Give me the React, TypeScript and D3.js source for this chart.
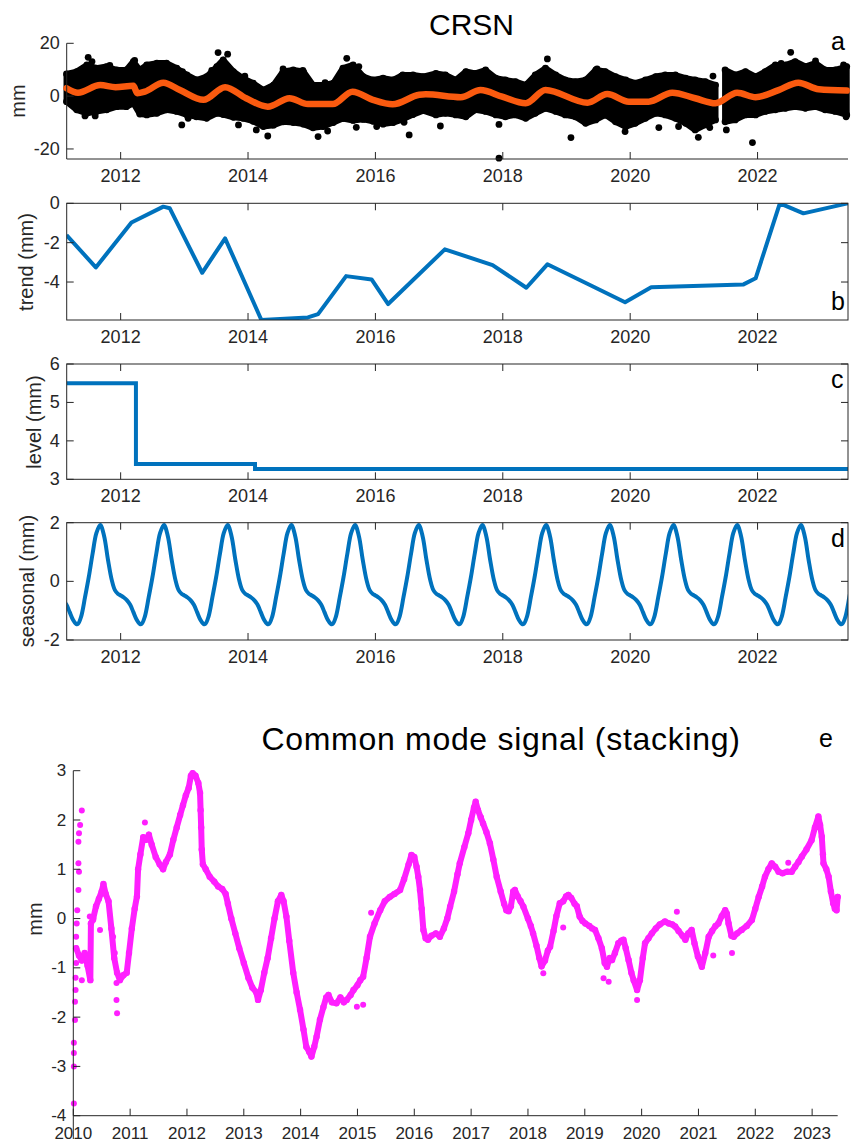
import React from "react";
import * as d3 from "d3";

const FONT = "'Liberation Sans', Arial, Helvetica, sans-serif";
const AXIS = "#262626";
const BLUE = "#0072BD";
const ORANGE = "#FA5A0F";
const MAGENTA = "#FF1FFF";

// ---- panel a: CRSN daily positions (cloud envelope + outliers) and fitted model
const cloudYears = [
  2011.15, 2011.31, 2011.47, 2011.62, 2011.78, 2011.94, 2012.09, 2012.2, 2012.3, 2012.41,
  2012.57, 2012.72, 2012.88, 2013.04, 2013.19, 2013.35, 2013.51, 2013.61, 2013.77, 2013.92,
  2014.08, 2014.24, 2014.4, 2014.55, 2014.71, 2014.87, 2015.02, 2015.18, 2015.34, 2015.49,
  2015.65, 2015.81, 2015.96, 2016.12, 2016.28, 2016.43, 2016.59, 2016.75,
  2016.95, 2017.1, 2017.26, 2017.42, 2017.57, 2017.73, 2017.89, 2018.04, 2018.2, 2018.36,
  2018.51, 2018.67, 2018.83, 2018.98, 2019.14, 2019.3, 2019.46, 2019.61, 2019.77, 2019.93,
  2020.08, 2020.24, 2020.4, 2020.55, 2020.71, 2020.87, 2021.02, 2021.18, 2021.34, 2021.41,
  2021.49, 2021.65, 2021.81, 2021.97, 2022.12, 2022.28, 2022.44, 2022.59, 2022.75, 2022.91,
  2023.06, 2023.22, 2023.4,
];
const cloudTop: (number | null)[] = [
  8.4, 9.3, 11.8, 10.6, 11.2, 9.9, 9.9, 13.1, 9.9, 11.8,
  12.5, 12.5, 10.6, 8.0, 6.1, 7.4, 11.2, 13.7, 9.3, 6.8,
  4.9, 2.3, 4.2, 9.3, 9.9, 9.3, 4.2, 4.2, 4.9, 10.6,
  11.8, 7.4, 6.1, 6.8, 6.1, 8.0, 8.0, 7.4,
  8.6, 8.0, 6.1, 9.3, 8.6, 9.9, 6.8, 6.1, 5.5, 4.2,
  8.0, 10.6, 8.0, 6.1, 5.5, 6.1, 9.9, 9.3, 7.4, 6.1,
  4.9, 6.1, 7.4, 8.0, 8.0, 6.8, 6.1, 5.5, 4.2, null,
  9.9, 8.0, 9.3, 7.4, 9.3, 11.8, 11.8, 13.1, 11.2, 12.5,
  9.9, 9.9, 11.2,
];
const cloudBottom: (number | null)[] = [
  -2.1, -5.2, -6.5, -5.8, -5.2, -4.0, -4.0, -2.7, -6.8, -7.1,
  -6.5, -5.2, -5.8, -7.1, -7.8, -8.4, -6.5, -7.0, -8.0, -8.4,
  -9.5, -11.5, -11.0, -9.7, -10.0, -10.6, -12.0, -11.5, -10.0, -8.5,
  -9.2, -8.8, -9.5, -10.6, -10.0, -8.8, -7.0, -5.5,
  -7.1, -6.5, -7.1, -7.8, -5.2, -5.8, -7.1, -7.8, -7.1, -8.4,
  -6.5, -4.6, -5.8, -7.1, -7.8, -10.3, -9.0, -7.1, -9.7, -11.6,
  -10.3, -8.4, -6.5, -7.1, -8.4, -10.3, -12.8, -10.9, -9.0, null,
  -9.7, -9.0, -7.1, -7.1, -5.8, -5.2, -4.6, -4.0, -4.6, -4.0,
  -5.2, -5.8, -7.1,
];
const outliers: [number, number][] = [
  [2011.49, 14.7], [2011.55, 13.1], [2011.44, -7.5], [2011.6, -7.5], [2011.83, 11.6],
  [2012.22, 13.5], [2012.97, 9.3], [2012.96, -10.9], [2013.06, -8.4], [2013.53, 16.5],
  [2013.68, 15.9], [2013.43, 9.7], [2013.85, -10.9], [2013.95, 7.6], [2014.13, -12.8],
  [2014.31, -15.1], [2014.41, 4.2], [2014.55, 10.3], [2014.86, 9.7], [2015.1, -15.3],
  [2015.25, -13.2], [2015.21, 5.1], [2015.55, 14.3], [2015.74, 11.2], [2015.7, -11.8],
  [2016.02, -11.5], [2016.41, 7.6], [2016.53, -14.7], [2016.45, -9.9],
  [2018.7, 14.1], [2017.02, -11.3], [2017.94, -10.7], [2017.94, -23.5], [2019.07, -15.7],
  [2019.48, 10.3], [2019.92, -13.4], [2020.45, -11.9], [2020.76, -11.5], [2021.07, -15.6],
  [2021.25, -11.9], [2021.3, 7.6], [2021.51, -12.8], [2021.92, -17.6], [2022.52, 16.6],
  [2022.37, 12.4], [2022.91, 13.3], [2023.35, 11.8], [2023.39, -7.8],
];
const modelFit: [number, number][] = [
  [2011.15, 3.0], [2011.33, 1.3], [2011.68, 4.2], [2011.92, 3.4], [2012.2, 3.9],
  [2012.26, 1.1], [2012.38, 1.7], [2012.67, 5.1], [2012.93, 2.3], [2013.3, -1.4],
  [2013.64, 3.4], [2013.97, -0.8], [2014.31, -4.0], [2014.65, -0.8], [2014.94, -3.0],
  [2015.33, -3.0], [2015.64, 1.7], [2015.96, -1.4], [2016.27, -3.1], [2016.69, 0.5],
  [2016.79, 0.7], [2017.34, -0.4], [2017.65, 2.3], [2017.99, -0.2], [2018.36, -2.7],
  [2018.67, 2.3], [2019.33, -2.5], [2019.64, 0.8], [2019.98, -2.1], [2020.29, -2.1],
  [2020.66, 1.3], [2021.02, -0.8], [2021.34, -2.7], [2021.68, 1.3], [2021.97, -0.4],
  [2022.33, 2.3], [2022.64, 5.1], [2022.96, 2.6], [2023.4, 2.1],
];

// ---- panel b: trend
const trend: [number, number][] = [
  [2011.15, -1.61], [2011.61, -3.26], [2012.17, -0.98], [2012.67, -0.17], [2012.77, -0.25],
  [2013.28, -3.53], [2013.64, -1.78], [2014.21, -5.93], [2014.94, -5.8], [2015.1, -5.63],
  [2015.54, -3.7], [2015.94, -3.87], [2016.2, -5.12], [2017.09, -2.34], [2017.84, -3.14],
  [2018.37, -4.29], [2018.7, -3.1], [2019.4, -4.2], [2019.92, -5.03], [2020.33, -4.27],
  [2021.78, -4.12], [2021.97, -3.81], [2022.35, 0.0], [2022.72, -0.51], [2023.42, 0.0],
];

// ---- panel c: level (steps)
const level: [number, number][] = [
  [2011.15, 5.5], [2012.24, 3.4], [2014.11, 3.27], [2023.42, 3.27],
];

// ---- panel d: seasonal, one yearly cycle repeated each year
const seasonalPhase = [0, 0.05, 0.1, 0.15, 0.2, 0.25, 0.3, 0.33, 0.38, 0.44, 0.5, 0.56, 0.62, 0.68, 0.74, 0.8, 0.86, 0.91, 0.96];
const seasonalValue = [-0.48, -0.55, -0.65, -0.8, -1.05, -1.3, -1.45, -1.45, -1.2, -0.55, 0.15, 0.95, 1.65, 1.92, 1.55, 0.75, 0.05, -0.3, -0.43];
const seasonalCycles = [2010, 2011, 2012, 2013, 2014, 2015, 2016, 2017, 2018, 2019, 2020, 2021, 2022, 2023, 2024];

const topYearTicks = [2012, 2014, 2016, 2018, 2020, 2022];

// ---- panel e: common mode signal
const commonMode: [number, number][] = [
  [2010.05, -0.6], [2010.1, -0.75], [2010.15, -0.85], [2010.2, -0.7], [2010.25, -0.95], [2010.3, -1.25],
  [2010.31, -0.1], [2010.35, 0.0], [2010.4, 0.25], [2010.45, 0.4], [2010.5, 0.55], [2010.53, 0.7],
  [2010.57, 0.5], [2010.62, 0.35], [2010.67, -0.2], [2010.72, -0.8], [2010.77, -1.1], [2010.82, -1.25],
  [2010.88, -1.15], [2010.94, -1.1], [2010.98, -0.7], [2011.03, -0.2], [2011.08, 0.2], [2011.12, 0.45],
  [2011.14, 1.0], [2011.18, 1.3], [2011.23, 1.65], [2011.28, 1.6], [2011.33, 1.7], [2011.38, 1.5],
  [2011.45, 1.25], [2011.52, 1.1], [2011.58, 1.0], [2011.63, 1.15], [2011.7, 1.3], [2011.76, 1.6],
  [2011.82, 1.85], [2011.88, 2.1], [2011.93, 2.3], [2011.98, 2.5], [2012.03, 2.65], [2012.07, 2.9],
  [2012.1, 2.95], [2012.15, 2.9], [2012.2, 2.75], [2012.23, 2.55], [2012.24, 2.2], [2012.25, 1.85],
  [2012.26, 1.4], [2012.28, 1.1], [2012.33, 1.0], [2012.4, 0.85], [2012.48, 0.75], [2012.55, 0.65],
  [2012.62, 0.6], [2012.68, 0.5], [2012.72, 0.3], [2012.78, 0.0], [2012.85, -0.3], [2012.92, -0.6],
  [2013.0, -0.9], [2013.08, -1.2], [2013.15, -1.4], [2013.22, -1.5], [2013.25, -1.65], [2013.3, -1.45],
  [2013.36, -1.1], [2013.42, -0.8], [2013.48, -0.4], [2013.54, 0.0], [2013.6, 0.35], [2013.66, 0.48],
  [2013.7, 0.35], [2013.75, 0.04], [2013.8, -0.45], [2013.87, -1.1], [2013.93, -1.5], [2013.99, -1.85],
  [2014.05, -2.25], [2014.1, -2.6], [2014.15, -2.7], [2014.19, -2.8], [2014.24, -2.6], [2014.28, -2.4],
  [2014.34, -2.05], [2014.4, -1.8], [2014.45, -1.6], [2014.49, -1.55], [2014.55, -1.7], [2014.63, -1.72],
  [2014.7, -1.6], [2014.76, -1.7], [2014.81, -1.65], [2014.88, -1.55], [2014.93, -1.45], [2015.0, -1.35],
  [2015.05, -1.25], [2015.1, -1.18], [2015.16, -0.8], [2015.22, -0.37], [2015.3, -0.1], [2015.4, 0.17],
  [2015.48, 0.35], [2015.57, 0.44], [2015.65, 0.5], [2015.75, 0.58], [2015.82, 0.8], [2015.9, 1.1],
  [2015.95, 1.29], [2016.0, 1.25], [2016.04, 1.05], [2016.07, 0.85], [2016.1, 0.58], [2016.13, 0.2],
  [2016.16, -0.23], [2016.2, -0.4], [2016.24, -0.43], [2016.3, -0.35], [2016.38, -0.3], [2016.45, -0.37],
  [2016.52, -0.2], [2016.58, 0.0], [2016.63, 0.24], [2016.7, 0.55], [2016.76, 0.9], [2016.8, 1.12],
  [2016.88, 1.45], [2016.95, 1.73], [2017.0, 2.0], [2017.05, 2.25], [2017.08, 2.37], [2017.12, 2.2],
  [2017.17, 2.05], [2017.21, 1.93], [2017.27, 1.75], [2017.33, 1.53], [2017.39, 1.2], [2017.45, 0.85],
  [2017.52, 0.55], [2017.58, 0.3], [2017.62, 0.17], [2017.66, 0.15], [2017.7, 0.25], [2017.74, 0.55],
  [2017.77, 0.58], [2017.82, 0.45], [2017.87, 0.35], [2017.92, 0.24], [2018.0, 0.0], [2018.05, -0.15],
  [2018.09, -0.3], [2018.15, -0.55], [2018.2, -0.8], [2018.24, -0.97], [2018.3, -0.85], [2018.35, -0.65],
  [2018.39, -0.57], [2018.45, -0.25], [2018.5, 0.05], [2018.56, 0.31], [2018.62, 0.35], [2018.67, 0.45],
  [2018.71, 0.48], [2018.76, 0.42], [2018.82, 0.3], [2018.86, 0.25], [2018.91, 0.04], [2018.96, -0.05],
  [2019.01, -0.1], [2019.08, -0.15], [2019.13, -0.2], [2019.18, -0.23], [2019.24, -0.4], [2019.3, -0.6],
  [2019.35, -0.9], [2019.39, -0.98], [2019.44, -0.8], [2019.48, -0.84], [2019.53, -0.7], [2019.59, -0.5],
  [2019.64, -0.45], [2019.68, -0.43], [2019.72, -0.6], [2019.77, -0.84], [2019.82, -1.1], [2019.86, -1.25],
  [2019.92, -1.45], [2019.97, -1.25], [2020.02, -0.8], [2020.06, -0.5], [2020.12, -0.4], [2020.18, -0.3],
  [2020.25, -0.2], [2020.32, -0.12], [2020.41, -0.06], [2020.48, -0.1], [2020.54, -0.12], [2020.59, -0.16],
  [2020.65, -0.25], [2020.72, -0.35], [2020.77, -0.43], [2020.82, -0.3], [2020.88, -0.23], [2020.93, -0.5],
  [2020.99, -0.77], [2021.06, -0.98], [2021.12, -0.7], [2021.18, -0.37], [2021.24, -0.25], [2021.3, -0.15],
  [2021.35, -0.1], [2021.41, 0.05], [2021.47, 0.17], [2021.5, 0.1], [2021.53, -0.1], [2021.58, -0.35],
  [2021.62, -0.37], [2021.68, -0.3], [2021.76, -0.23], [2021.85, -0.15], [2021.94, -0.03], [2022.0, 0.2],
  [2022.06, 0.44], [2022.12, 0.65], [2022.17, 0.85], [2022.23, 1.0], [2022.29, 1.12], [2022.35, 1.05],
  [2022.41, 0.95], [2022.48, 0.92], [2022.56, 0.95], [2022.64, 0.95], [2022.7, 1.05], [2022.76, 1.15],
  [2022.82, 1.26], [2022.9, 1.4], [2022.99, 1.59], [2023.05, 1.85], [2023.11, 2.07], [2023.14, 1.9],
  [2023.17, 1.66], [2023.19, 1.3], [2023.2, 1.12], [2023.25, 1.0], [2023.29, 0.85], [2023.33, 0.55],
  [2023.37, 0.31], [2023.4, 0.2], [2023.43, 0.17], [2023.45, 0.44],
];
const commonModeScatter: [number, number][] = [
  [2010.01, -3.75], [2010.01, -3.0], [2010.01, -2.73], [2010.01, -2.52], [2010.03, -2.06],
  [2010.03, -1.69], [2010.04, -1.45], [2010.04, -1.2], [2010.05, -0.9], [2010.05, -0.37],
  [2010.06, -0.1], [2010.07, 0.17], [2010.09, 0.58], [2010.1, 0.95], [2010.09, 1.12],
  [2010.09, 1.56], [2010.1, 1.73], [2010.12, 1.9], [2010.15, 2.19], [2010.15, -1.25],
  [2010.29, 0.04], [2010.35, -0.03], [2010.47, -0.23], [2010.7, -0.37], [2010.73, -0.7],
  [2010.76, -1.31], [2010.76, -1.65], [2010.77, -1.92], [2011.26, 1.95],
  [2014.99, -1.79], [2015.1, -1.75], [2015.24, 0.12], [2018.27, -1.11], [2018.62, -0.18],
  [2019.33, -1.21], [2019.42, -1.28], [2019.92, -1.65], [2020.62, 0.14], [2021.26, -0.75],
  [2021.59, -0.7], [2022.58, 1.13],
];
const bottomYearTicks = [2010, 2011, 2012, 2013, 2014, 2015, 2016, 2017, 2018, 2019, 2020, 2021, 2022, 2023];

type Scale = d3.ScaleLinear<number, number>;

const Axes = ({ x, y, xTicks, yTicks, box, yLineEnd, fontSize = 18 }: {
  x: Scale; y: Scale; xTicks: number[]; yTicks: number[]; box?: boolean; yLineEnd?: number; fontSize?: number;
}) => {
  const [x0, x1] = x.range();
  const [yb, yt] = y.range();
  const tk = 7;
  return (
    <g stroke={AXIS} strokeWidth={1} fontFamily={FONT} fontSize={fontSize}>
      {box ? (
        <rect x={x0} y={yt} width={x1 - x0} height={yb - yt} fill="none" />
      ) : (
        <>
          <line x1={x0} x2={x1} y1={yb} y2={yb} />
          <line x1={x0} x2={x0} y1={yt} y2={yLineEnd ?? yb} />
        </>
      )}
      {xTicks.map(t => (
        <g key={"x" + t}>
          <line x1={x(t)} x2={x(t)} y1={yb} y2={yb - tk} />
          {box && <line x1={x(t)} x2={x(t)} y1={yt} y2={yt + tk} />}
          <text x={x(t)} y={yb + 23} textAnchor="middle" stroke="none" fill={AXIS}>{t}</text>
        </g>
      ))}
      {yTicks.map(t => (
        <g key={"y" + t}>
          <line x1={x0} x2={x0 + tk} y1={y(t)} y2={y(t)} />
          {box && <line x1={x1} x2={x1 - tk} y1={y(t)} y2={y(t)} />}
          <text x={x0 - 7} y={y(t)} dy="0.33em" textAnchor="end" stroke="none" fill={AXIS}>{t}</text>
        </g>
      ))}
    </g>
  );
};

const YLabel = ({ x, y, text }: { x: number; y: number; text: string }) => (
  <text transform={`translate(${x},${y}) rotate(-90)`} textAnchor="middle" fontFamily={FONT} fontSize={20} fill={AXIS}>
    {text}
  </text>
);

const Letter = ({ x, y, text }: { x: number; y: number; text: string }) => (
  <text x={x} y={y} fontFamily={FONT} fontSize={25} fill="#000">{text}</text>
);

export default function App() {
  const xTop = d3.scaleLinear().domain([2011.153, 2023.42]).range([66.7, 848]);

  // panel a
  const yA = d3.scaleLinear().domain([-23.8, 20]).range([159, 43.3]);
  const cloudRows = cloudYears.map((t, i) => ({ t, hi: cloudTop[i], lo: cloudBottom[i] }));
  const cloudArea = d3.area<{ t: number; hi: number | null; lo: number | null }>()
    .defined(d => d.hi !== null && d.lo !== null)
    .x(d => xTop(d.t))
    .y0(d => yA(d.lo as number))
    .y1(d => yA(d.hi as number));
  const fitLine = d3.line<[number, number]>().x(d => xTop(d[0])).y(d => yA(d[1])).curve(d3.curveMonotoneX);

  // panel b
  const yB = d3.scaleLinear().domain([-5.93, 0]).range([320, 203.3]);
  const trendLine = d3.line<[number, number]>().x(d => xTop(d[0])).y(d => yB(d[1]));

  // panel c
  const yC = d3.scaleLinear().domain([3, 6]).range([479.3, 364]);
  const levelLine = d3.line<[number, number]>().x(d => xTop(d[0])).y(d => yC(d[1])).curve(d3.curveStepAfter);

  // panel d
  const yD = d3.scaleLinear().domain([-2, 2]).range([640, 522.7]);
  const seasonal: [number, number][] = seasonalCycles.flatMap(c =>
    seasonalPhase.map((p, i) => [c + p, seasonalValue[i]] as [number, number])
  );
  const seasonalLine = d3.line<[number, number]>().x(d => xTop(d[0])).y(d => yD(d[1])).curve(d3.curveCatmullRom);

  // panel e
  const xE = d3.scaleLinear().domain([2010, 2023.45]).range([73.3, 837.7]);
  const yE = d3.scaleLinear().domain([-4, 3]).range([1115.7, 770.7]);
  const cmLine = d3.line<[number, number]>().x(d => xE(d[0])).y(d => yE(d[1]));

  const clip = (id: string, y: Scale) => {
    const [x0, x1] = xTop.range();
    const [yb, yt] = y.range();
    return (
      <clipPath id={id}>
        <rect x={x0} y={yt} width={x1 - x0} height={yb - yt} />
      </clipPath>
    );
  };

  return (
    <svg width={852} height={1143} style={{ position: "absolute", left: 0, top: 0, background: "#fff" }}>
      <defs>
        {clip("clip-b", yB)}
        {clip("clip-c", yC)}
        {clip("clip-d", yD)}
      </defs>

      {/* a */}
      <text x={471.5} y={35} textAnchor="middle" fontFamily={FONT} fontSize={30} fill="#000">CRSN</text>
      <g>
        <path d={cloudArea(cloudRows) ?? ""} fill="#000" stroke="#000" strokeWidth={6} strokeLinejoin="round" />
        {cloudRows.filter(d => d.hi !== null).map((d, i) => (
          <g key={"c" + i}>
            <circle cx={xTop(d.t)} cy={yA(d.hi as number)} r={3.4} fill="#000" />
            <circle cx={xTop(d.t)} cy={yA(d.lo as number)} r={3.4} fill="#000" />
          </g>
        ))}
        {outliers.map((d, i) => (
          <circle key={"o" + i} cx={xTop(d[0])} cy={yA(d[1])} r={3.4} fill="#000" />
        ))}
        <path d={fitLine(modelFit) ?? ""} fill="none" stroke={ORANGE} strokeWidth={6.5} strokeLinejoin="round" strokeLinecap="round" />
      </g>
      <Axes x={xTop} y={yA} xTicks={topYearTicks} yTicks={[-20, 0, 20]} />
      <YLabel x={25} y={101} text="mm" />
      <Letter x={831} y={50} text="a" />

      {/* b */}
      <path d={trendLine(trend) ?? ""} fill="none" stroke={BLUE} strokeWidth={4} strokeLinejoin="round" clipPath="url(#clip-b)" />
      <Axes x={xTop} y={yB} xTicks={topYearTicks} yTicks={[-4, -2, 0]} box />
      <YLabel x={33} y={262} text="trend (mm)" />
      <Letter x={831} y={310} text="b" />

      {/* c */}
      <path d={levelLine(level) ?? ""} fill="none" stroke={BLUE} strokeWidth={4} clipPath="url(#clip-c)" />
      <Axes x={xTop} y={yC} xTicks={topYearTicks} yTicks={[3, 4, 5, 6]} box />
      <YLabel x={41} y={422} text="level (mm)" />
      <Letter x={831} y={388} text="c" />

      {/* d */}
      <path d={seasonalLine(seasonal) ?? ""} fill="none" stroke={BLUE} strokeWidth={4} clipPath="url(#clip-d)" />
      <Axes x={xTop} y={yD} xTicks={topYearTicks} yTicks={[-2, 0, 2]} box />
      <YLabel x={34} y={581} text="seasonal (mm)" />
      <Letter x={831} y={547} text="d" />

      {/* e */}
      <text x={501} y={750} textAnchor="middle" fontFamily={FONT} fontSize={32} letterSpacing={0.7} fill="#000">
        Common mode signal (stacking)
      </text>
      <Letter x={819} y={747} text="e" />
      <path d={cmLine(commonMode) ?? ""} fill="none" stroke={MAGENTA} strokeWidth={6} strokeLinejoin="round" strokeLinecap="round" />
      {commonMode.map((d, i) => (
        <circle key={"m" + i} cx={xE(d[0])} cy={yE(d[1])} r={3.2} fill={MAGENTA} />
      ))}
      {commonModeScatter.map((d, i) => (
        <circle key={"s" + i} cx={xE(d[0])} cy={yE(d[1])} r={3} fill={MAGENTA} />
      ))}
      <Axes x={xE} y={yE} xTicks={bottomYearTicks} yTicks={[-4, -3, -2, -1, 0, 1, 2, 3]} yLineEnd={1139} fontSize={17} />
      <YLabel x={42} y={919} text="mm" />
    </svg>
  );
}
